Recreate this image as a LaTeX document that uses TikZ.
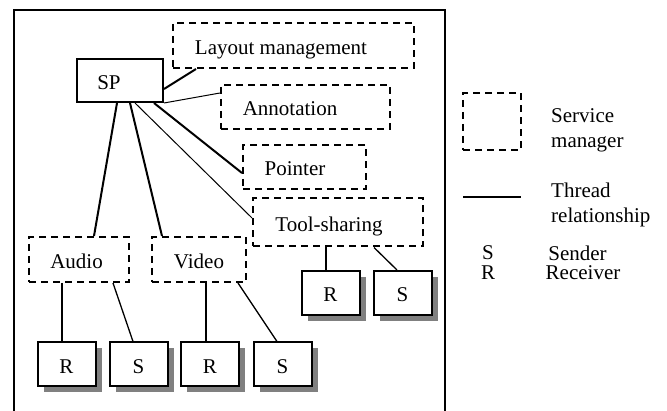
\documentclass[tikz,border=0pt]{standalone}
\usepackage{fontspec}
\setmainfont{Liberation Serif}
\usetikzlibrary{shadows}
\newcommand{\sh}[2]{\kern-#1pt #2\kern#1pt}
\begin{document}
\begin{tikzpicture}[x=1pt,y=-1pt,
  every node/.style={font=\fontsize{21}{25}\selectfont, inner sep=0pt},
  boxtext/.style={text height=18pt, text depth=0pt},
  dbox/.style={draw, line width=2pt, dash pattern=on 7pt off 5pt, rectangle, boxtext},
  sbox/.style={draw, line width=2pt, rectangle, fill=white, boxtext},
  rsbox/.style={sbox, minimum width=58pt, minimum height=44pt,
    drop shadow={shadow xshift=6pt, shadow yshift=-6pt, fill=black!50, opacity=1}},
  thick line/.style={line width=2pt},
  thin line/.style={line width=1pt},
  mid line/.style={line width=1.3pt}]
\useasboundingbox (0,0) rectangle (667,411);
% frame
\draw[line width=2pt] (14,430) -- (14,10) -- (445,10) -- (445,430);
% service managers
\node[dbox, minimum width=241pt, minimum height=45pt] (lay) at (293.5,45.5) {\sh{12.5}{Layout management}};
\node[sbox, minimum width=86pt, minimum height=43pt] (sp) at (120,80.5) {\sh{11}{SP}};
\node[dbox, minimum width=169pt, minimum height=44pt] (ann) at (305.5,107) {\sh{15.5}{Annotation}};
\node[dbox, minimum width=123pt, minimum height=44pt] (ptr) at (304.5,167) {\sh{9.5}{Pointer}};
\node[dbox, minimum width=170pt, minimum height=48pt] (tool) at (338,222.5) {\sh{9}{Tool-sharing}};
\node[dbox, minimum width=100pt, minimum height=45pt] (audio) at (79,259.5) {\sh{2.5}{Audio}};
\node[dbox, minimum width=94pt, minimum height=45pt] (video) at (199,259.5) {Video};
% R / S boxes
\node[rsbox] (r1) at (66.5,364.5) {R};
\node[rsbox] (s1) at (138.5,364.5) {S};
\node[rsbox] (r2) at (210,364.5) {R};
\node[rsbox] (s2) at (282.5,364.5) {S};
\node[rsbox] (tr) at (330.5,293) {R};
\node[rsbox] (ts) at (402.5,293) {S};
% connectors from SP
\draw[thick line] ([yshift=-8.5pt]sp.east) -- ([xshift=24pt]lay.south west);
\draw[thin line] (sp.south east) -- ([yshift=14pt]ann.west);
\draw[thick line] ([xshift=-10pt]sp.south east) -- ([yshift=-6pt]ptr.west);
\draw[thin line] ([xshift=15pt]sp.south) -- ([yshift=4.5pt]tool.west);
\draw[thick line] ([xshift=-3pt]sp.south) -- ([xshift=15pt]audio.north);
\draw[thick line] ([xshift=10pt]sp.south) -- ([xshift=11pt]video.north west);
% connectors to R/S
\draw[mid line] ([xshift=-17pt]audio.south) -- ([xshift=-4.5pt]r1.north);
\draw[mid line] ([xshift=34pt]audio.south) -- ([xshift=-5.5pt]s1.north);
\draw[mid line] ([xshift=7pt]video.south) -- ([xshift=-4pt]r2.north);
\draw[mid line] ([xshift=-9pt]video.south east) -- ([xshift=-5.5pt]s2.north);
\draw[mid line] ([xshift=-12pt]tool.south) -- ([xshift=-4.5pt]tr.north);
\draw[mid line] ([xshift=36pt]tool.south) -- ([xshift=-5.5pt]ts.north);
% legend
\node[dbox, minimum width=58pt, minimum height=57pt] (legbox) at (492,121.5) {};
\node[anchor=west, align=left] (legsm) at (551,130) {Service\\manager};
\coordinate (lega) at (463,197);
\coordinate (legb) at (521,197);
\draw[mid line] (lega) -- (legb);
\node[anchor=west, align=left] (legtr) at (551,205) {Thread\\relationship};
\node (legs) at (488,253) {S};
\node (legsender) at (577.5,253) {Sender};
\node (legr) at (488,273) {R};
\node (legrecv) at (583,273) {Receiver};
\end{tikzpicture}
\end{document}
